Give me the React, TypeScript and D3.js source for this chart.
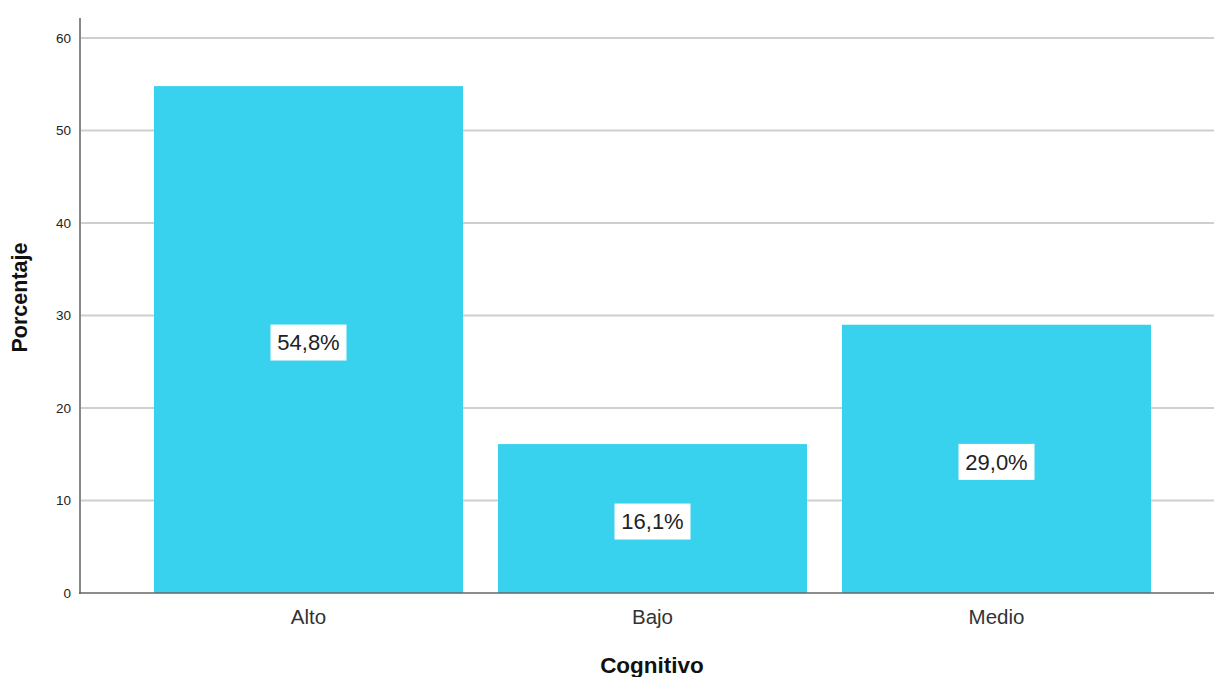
import React from "react";
import * as d3 from "d3";

const categories = ["Alto", "Bajo", "Medio"];
const values = [54.8, 16.1, 29.0];
const valueLabels = ["54,8%", "16,1%", "29,0%"];
const yTicks = [0, 10, 20, 30, 40, 50, 60];

const W = 1214;
const H = 677;
const FONT = "'Liberation Sans', Arial, sans-serif";

export default function App() {
  const x = d3
    .scaleBand<string>()
    .domain(categories)
    .range([136.5, 1168.5])
    .paddingInner(35 / 344)
    .paddingOuter(35 / 688);
  const y = d3.scaleLinear().domain([0, 60]).range([593, 38]);

  return (
    <svg
      width={W}
      height={H}
      style={{ position: "absolute", left: 0, top: 0, background: "#fff" }}
      fontFamily={FONT}
    >
      {yTicks.map((t) => (
        <g key={t}>
          {t > 0 && (
            <line x1={80} x2={W} y1={y(t)} y2={y(t)} stroke="#cfcfcf" strokeWidth={2} />
          )}
          <text x={71} y={y(t)} dy="0.35em" textAnchor="end" fontSize={13.5} fill="#222">
            {t}
          </text>
        </g>
      ))}
      {categories.map((c, i) => {
        const bx = x(c)!;
        const bw = x.bandwidth();
        const top = y(values[i]);
        const cy = (top + y(0)) / 2 + 3;
        const cx = bx + bw / 2;
        return (
          <g key={c}>
            <rect x={bx} y={top} width={bw} height={y(0) - top} fill="#38D1EE" />
            <rect x={cx - 38} y={cy - 18} width={76} height={36} fill="#fff" />
            <text x={cx} y={cy} dy="0.36em" textAnchor="middle" fontSize={22} fill="#222">
              {valueLabels[i]}
            </text>
            <text x={cx} y={617} dy="0.36em" textAnchor="middle" fontSize={20.5} fill="#333">
              {c}
            </text>
          </g>
        );
      })}
      <line x1={80} x2={80} y1={18} y2={594} stroke="#888" strokeWidth={2} />
      <line x1={79} x2={W} y1={593} y2={593} stroke="#666" strokeWidth={1.5} />
      <text
        transform={`translate(27,297.5) rotate(-90)`}
        textAnchor="middle"
        fontSize={21.5}
        fontWeight="bold"
        fill="#111"
      >
        Porcentaje
      </text>
      <text x={652} y={665} dy="0.36em" textAnchor="middle" fontSize={22.5} fontWeight="bold" fill="#111">
        Cognitivo
      </text>
    </svg>
  );
}
